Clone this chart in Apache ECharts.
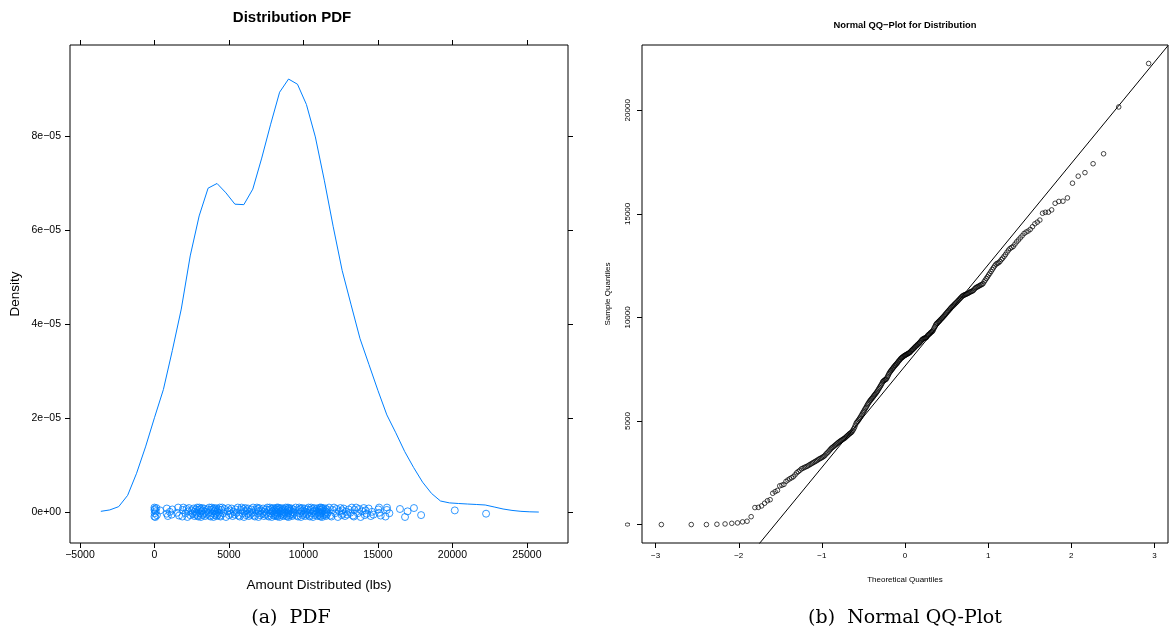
<!DOCTYPE html>
<html>
<head>
<meta charset="utf-8">
<script src="https://cdn.jsdelivr.net/npm/echarts@6/dist/echarts.min.js"></script>
<style>
html,body{margin:0;padding:0;background:#fff;}
#c{width:1170px;height:634px;}
</style>
</head>
<body>
<div id="c"></div>
<script>
// ---- Left panel: kernel density ----
const densityX = [-3600, -3000, -2400, -1800, -1200, -600, 0, 600, 1200, 1800,
  2400, 3000, 3600, 4200, 4800, 5400, 6000, 6600, 7200, 7800,
  8400, 9000, 9600, 10200, 10800, 11400, 12000, 12600, 13200, 13800,
  14400, 15000, 15600, 16200, 16800, 17400, 18000, 18600, 19200, 19800,
  20400, 21000, 21600, 22200, 22800, 23400, 24000, 24600, 25200, 25800];
const densityY = [2e-7, 5e-7, 1.2e-6, 3.6e-6, 8.3e-6, 1.39e-5, 2.01e-5, 2.61e-5, 3.44e-5, 4.32e-5,
  5.45e-5, 6.3e-5, 6.89e-5, 6.99e-5, 6.79e-5, 6.55e-5, 6.54e-5, 6.87e-5, 7.53e-5, 8.25e-5,
  8.93e-5, 9.21e-5, 9.1e-5, 8.67e-5, 7.98e-5, 7.06e-5, 6.07e-5, 5.14e-5, 4.41e-5, 3.69e-5,
  3.14e-5, 2.59e-5, 2.07e-5, 1.69e-5, 1.29e-5, 9.5e-6, 6.4e-6, 4.0e-6, 2.4e-6, 2.0e-6,
  1.87e-6, 1.76e-6, 1.66e-6, 1.55e-6, 1.13e-6, 7e-7, 4e-7, 2e-7, 1e-7, 5e-8];

const sampleValues = [
  0, 0, 0, 15, 30, 60, 80, 130, 160, 380,
  820, 830, 900, 1030, 1150, 1200, 1510, 1590, 1650, 1870,
  1900, 1940, 2080, 2150, 2210, 2260, 2310, 2400, 2500, 2560,
  2620, 2690, 2720, 2760, 2790, 2820, 2860, 2900, 2940, 2975,
  3010, 3050, 3080, 3120, 3160, 3190, 3220, 3250, 3290, 3330,
  3400, 3450, 3500, 3560, 3620, 3680, 3720, 3760, 3800, 3840,
  3880, 3920, 3960, 4000, 4030, 4060, 4090, 4120, 4150, 4180,
  4220, 4260, 4300, 4340, 4380, 4410, 4440, 4480, 4550, 4620,
  4700, 4800, 4900, 4950, 5000, 5060, 5120, 5180, 5250, 5320,
  5390, 5450, 5520, 5590, 5650, 5720, 5790, 5850, 5910, 5970,
  6010, 6060, 6100, 6150, 6200, 6250, 6290, 6340, 6390, 6440,
  6500, 6560, 6620, 6680, 6740, 6800, 6880, 6920, 6950, 6980,
  7000, 7020, 7080, 7150, 7220, 7290, 7350, 7400, 7440, 7490,
  7530, 7580, 7620, 7670, 7700, 7740, 7780, 7820, 7870, 7910,
  7950, 7990, 8030, 8060, 8080, 8110, 8140, 8160, 8180, 8200,
  8220, 8240, 8260, 8280, 8300, 8330, 8370, 8410, 8440, 8470,
  8510, 8540, 8580, 8610, 8640, 8680, 8710, 8740, 8780, 8810,
  8860, 8900, 8940, 8960, 8980, 9000, 9010, 9020, 9060, 9110,
  9150, 9180, 9210, 9250, 9280, 9310, 9340, 9400, 9480, 9550,
  9630, 9690, 9720, 9760, 9800, 9830, 9870, 9910, 9950, 9990,
  10030, 10070, 10120, 10160, 10210, 10250, 10300, 10340, 10390, 10430,
  10480, 10520, 10560, 10600, 10640, 10680, 10720, 10760, 10810, 10850,
  10900, 10940, 10990, 11030, 11060, 11080, 11100, 11120, 11140, 11160,
  11190, 11220, 11240, 11260, 11280, 11320, 11380, 11430, 11460, 11480,
  11510, 11540, 11570, 11590, 11630, 11720, 11800, 11880, 11960, 12050,
  12130, 12220, 12310, 12400, 12490, 12570, 12610, 12640, 12700, 12790,
  12860, 12950, 13040, 13150, 13250, 13330, 13380, 13430, 13540, 13650,
  13740, 13840, 13940, 14050, 14120, 14170, 14250, 14380, 14520, 14600,
  14700, 15030, 15075, 15080, 15190, 15510, 15600, 15610, 15770, 16480,
  16820, 16990, 17420, 17900, 20160, 22260
];
// vertical jitter offsets (density units) for the rug points, reused in turn
const rugJitter = [-0.9e-6, 0.5e-6, 1.0e-6, -0.2e-6, 0.7e-6, -1.0e-6, 0.2e-6, 0.9e-6, -0.6e-6, 0.4e-6,
  -0.3e-6, 0.8e-6, -0.8e-6, 0.1e-6, -0.5e-6, 0.6e-6, -0.1e-6, 1.0e-6, -0.7e-6];

// ---- Ticks ----
const pdfXTicks = [-5000, 0, 5000, 10000, 15000, 20000, 25000];
const pdfYTicks = [0, 2e-5, 4e-5, 6e-5, 8e-5];
const pdfYTickLabels = ['0e+00', '2e\u221205', '4e\u221205', '6e\u221205', '8e\u221205'];
const qqXTicks = [-3, -2, -1, 0, 1, 2, 3];
const qqYTicks = [0, 5000, 10000, 15000, 20000];
// reference line (qqline)
const qqLineSlope = 4890;
const qqLineIntercept = 7650;

// ---- helpers ----
function qnorm(p) {
  const a = [-3.969683028665376e+01, 2.209460984245205e+02, -2.759285104469687e+02, 1.383577518672690e+02, -3.066479806614716e+01, 2.506628277459239e+00];
  const b = [-5.447609879822406e+01, 1.615858368580409e+02, -1.556989798598866e+02, 6.680131188771972e+01, -1.328068155288572e+01];
  const c = [-7.784894002430293e-03, -3.223964580411365e-01, -2.400758277161838e+00, -2.549732539343734e+00, 4.374664141464968e+00, 2.938163982698783e+00];
  const d = [7.784695709041462e-03, 3.224671290700398e-01, 2.445134137142996e+00, 3.754408661907416e+00];
  const pl = 0.02425, ph = 1 - pl;
  let q, r;
  if (p < pl) {
    q = Math.sqrt(-2 * Math.log(p));
    return (((((c[0]*q+c[1])*q+c[2])*q+c[3])*q+c[4])*q+c[5]) / ((((d[0]*q+d[1])*q+d[2])*q+d[3])*q+1);
  } else if (p <= ph) {
    q = p - 0.5; r = q * q;
    return (((((a[0]*r+a[1])*r+a[2])*r+a[3])*r+a[4])*r+a[5])*q / (((((b[0]*r+b[1])*r+b[2])*r+b[3])*r+b[4])*r+1);
  } else {
    q = Math.sqrt(-2 * Math.log(1 - p));
    return -(((((c[0]*q+c[1])*q+c[2])*q+c[3])*q+c[4])*q+c[5]) / ((((d[0]*q+d[1])*q+d[2])*q+d[3])*q+1);
  }
}
const n = sampleValues.length;
const qqData = sampleValues.map((v, i) => [qnorm((i + 1 - 0.5) / n), v]);
const rugData = sampleValues.map((v, i) => [v, rugJitter[i % rugJitter.length]]);
const densityData = densityX.map((x, i) => [x, densityY[i]]);

const qqXMin = -3.164, qqXMax = 3.164;
const qqLineData = [[qqXMin, qqLineIntercept + qqLineSlope * qqXMin], [qqXMax, qqLineIntercept + qqLineSlope * qqXMax]];

const FONT = 'Liberation Sans';
const minus = v => (v < 0 ? '\u2212' + Math.abs(v) : String(v));
const noLine = {show: false, onZero: false};

const chart = echarts.init(document.getElementById('c'), null, {renderer: 'canvas'});
const option = {
  backgroundColor: '#fff',
  animation: false,
  textStyle: {fontFamily: FONT, color: '#000'},
  grid: [
    {left: 70, top: 45, width: 498, height: 498, show: true, borderColor: '#000', borderWidth: 1, backgroundColor: 'transparent'},
    {left: 642, top: 45, width: 526, height: 498, show: true, borderColor: '#000', borderWidth: 1, backgroundColor: 'transparent'}
  ],
  xAxis: [
    {type: 'value', gridIndex: 0, position: 'bottom', min: -5670, max: 27760,
     axisLine: noLine, splitLine: {show: false},
     axisTick: {show: true, length: 5, customValues: pdfXTicks, lineStyle: {color: '#000'}},
     axisLabel: {customValues: pdfXTicks, formatter: v => minus(v), fontSize: 10.5, color: '#000', margin: 7, fontFamily: FONT},
     name: 'Amount Distributed (lbs)', nameLocation: 'middle', nameGap: 35,
     nameTextStyle: {fontSize: 13.5, color: '#000', fontFamily: FONT}},
    {type: 'value', gridIndex: 0, position: 'top', min: -5670, max: 27760,
     axisLine: noLine, splitLine: {show: false},
     axisTick: {show: true, length: 5, customValues: pdfXTicks, lineStyle: {color: '#000'}},
     axisLabel: {show: false}},
    {type: 'value', gridIndex: 1, position: 'bottom', min: qqXMin, max: qqXMax,
     axisLine: noLine, splitLine: {show: false},
     axisTick: {show: true, length: 5, customValues: qqXTicks, lineStyle: {color: '#000'}},
     axisLabel: {customValues: qqXTicks, formatter: v => minus(v), fontSize: 8, color: '#000', margin: 9, fontFamily: FONT},
     name: 'Theoretical Quantiles', nameLocation: 'middle', nameGap: 33,
     nameTextStyle: {fontSize: 8, color: '#000', fontFamily: FONT}}
  ],
  yAxis: [
    {type: 'value', gridIndex: 0, position: 'left', min: -6.53e-6, max: 9.934e-5,
     axisLine: noLine, splitLine: {show: false},
     axisTick: {show: true, length: 5, customValues: pdfYTicks, lineStyle: {color: '#000'}},
     axisLabel: {customValues: pdfYTicks, fontSize: 10.5, color: '#000', margin: 9, fontFamily: FONT,
       formatter: v => { let k = 0, best = Infinity; pdfYTicks.forEach((t, i) => { const d = Math.abs(t - v); if (d < best) { best = d; k = i; } }); return pdfYTickLabels[k]; }},
     name: 'Density', nameLocation: 'middle', nameGap: 48,
     nameTextStyle: {fontSize: 13.5, color: '#000', fontFamily: FONT}},
    {type: 'value', gridIndex: 0, position: 'right', min: -6.53e-6, max: 9.934e-5,
     axisLine: noLine, splitLine: {show: false},
     axisTick: {show: true, length: 5, customValues: pdfYTicks, lineStyle: {color: '#000'}},
     axisLabel: {show: false}},
    {type: 'value', gridIndex: 1, position: 'left', min: -890, max: 23152,
     axisLine: noLine, splitLine: {show: false},
     axisTick: {show: true, length: 5, customValues: qqYTicks, lineStyle: {color: '#000'}},
     axisLabel: {customValues: qqYTicks, formatter: v => String(v), rotate: 90, fontSize: 8, color: '#000', margin: 10, fontFamily: FONT},
     name: 'Sample Quantiles', nameLocation: 'middle', nameGap: 30,
     nameTextStyle: {fontSize: 8, color: '#000', fontFamily: FONT}}
  ],
  series: [
    {type: 'line', xAxisIndex: 0, yAxisIndex: 0, data: densityData, symbol: 'none', smooth: false,
     lineStyle: {color: '#0080ff', width: 1}, silent: true},
    {type: 'scatter', xAxisIndex: 0, yAxisIndex: 0, data: rugData, symbol: 'circle', symbolSize: 7,
     itemStyle: {color: 'rgba(0,0,0,0)', borderColor: '#0080ff', borderWidth: 1}, silent: true},
    {type: 'line', xAxisIndex: 2, yAxisIndex: 2, data: qqLineData, symbol: 'none', clip: true,
     lineStyle: {color: '#000', width: 1}, silent: true},
    {type: 'scatter', xAxisIndex: 2, yAxisIndex: 2, data: qqData, symbol: 'circle', symbolSize: 4.6,
     itemStyle: {color: 'rgba(0,0,0,0)', borderColor: '#000', borderWidth: 0.9}, silent: true}
  ],
  graphic: [
    {type: 'text', x: 292, y: 18, style: {text: 'Distribution PDF', fill: '#000', font: 'bold 15px "Liberation Sans"', textAlign: 'center', textVerticalAlign: 'middle'}},
    {type: 'text', x: 905, y: 25, style: {text: 'Normal QQ\u2212Plot for Distribution', fill: '#000', font: 'bold 9.4px "Liberation Sans"', textAlign: 'center', textVerticalAlign: 'middle'}},
    {type: 'text', x: 291, y: 618, style: {text: '(a)  PDF', fill: '#000', font: '19px "DejaVu Serif"', textAlign: 'center', textVerticalAlign: 'middle'}},
    {type: 'text', x: 905, y: 618, style: {text: '(b)  Normal QQ-Plot', fill: '#000', font: '19px "DejaVu Serif"', textAlign: 'center', textVerticalAlign: 'middle'}}
  ]
};
chart.setOption(option);
</script>
</body>
</html>
